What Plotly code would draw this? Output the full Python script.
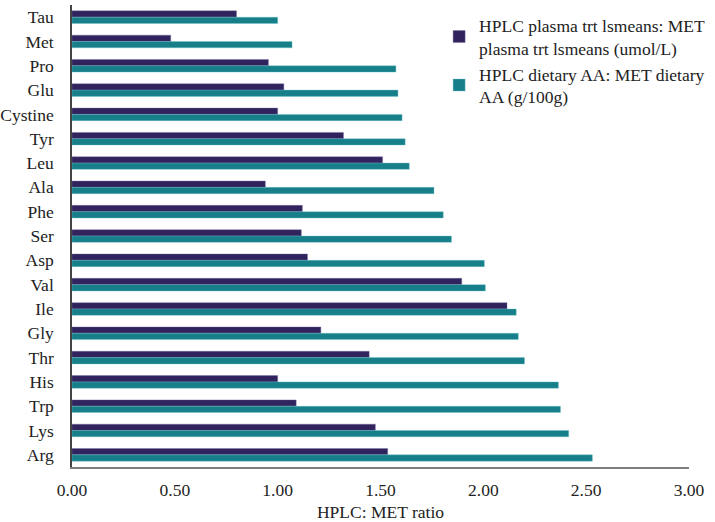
import plotly.graph_objects as go

categories = ["Tau", "Met", "Pro", "Glu", "Cystine", "Tyr", "Leu", "Ala", "Phe", "Ser",
              "Asp", "Val", "Ile", "Gly", "Thr", "His", "Trp", "Lys", "Arg"]
plasma = [0.80, 0.48, 0.955, 1.03, 1.00, 1.32, 1.51, 0.94, 1.12, 1.115,
          1.145, 1.895, 2.115, 1.21, 1.445, 1.00, 1.09, 1.475, 1.535]
dietary = [1.00, 1.07, 1.575, 1.585, 1.605, 1.62, 1.64, 1.76, 1.805, 1.845,
           2.005, 2.01, 2.16, 2.17, 2.20, 2.365, 2.375, 2.415, 2.53]
tick_vals = [0, 0.5, 1.0, 1.5, 2.0, 2.5, 3.0]

name_plasma = "HPLC plasma trt lsmeans: MET<br>plasma trt lsmeans (umol/L)"
name_dietary = "HPLC dietary AA: MET dietary<br>AA (g/100g)"

fig = go.Figure()
fig.add_trace(go.Bar(y=categories, x=plasma, orientation="h", name=name_plasma,
                     marker=dict(color="#30235E", line=dict(color="#7a6fa0", width=0.4))))
fig.add_trace(go.Bar(y=categories, x=dietary, orientation="h", name=name_dietary,
                     marker=dict(color="#167F89", line=dict(color="#6fc3c9", width=0.4))))

font = "Liberation Serif"
fs = 17.5
fig.update_layout(
    width=715, height=522,
    margin=dict(l=72, r=18, t=5, b=55),
    paper_bgcolor="white", plot_bgcolor="white",
    barmode="group", bargap=0.48, bargroupgap=0,
    font=dict(family=font, size=fs, color="#222"),
    showlegend=True,
    legend=dict(x=0.595, y=0.995, xanchor="left", yanchor="top",
                font=dict(family=font, size=fs, color="#222"),
                tracegroupgap=8, bgcolor="rgba(0,0,0,0)", itemwidth=30),
    xaxis=dict(range=[0, 3], tickvals=tick_vals, tickformat=".2f",
               showgrid=False, zeroline=False, showline=True,
               linecolor="#7f7f7f", linewidth=1.5, ticks="",
               automargin=False, ticklabelstandoff=6,
               title=dict(text="HPLC: MET ratio", standoff=14,
                          font=dict(family=font, size=fs)),
               tickfont=dict(family=font, size=fs)),
    yaxis=dict(autorange="reversed", showgrid=False, zeroline=False,
               showline=True, linecolor="#444", linewidth=1.5, ticks="",
               ticklabelstandoff=13, automargin=False,
               tickfont=dict(family=font, size=fs)),
)

fig.write_html("out.html", config={"displayModeBar": False},
               post_script="document.body.style.margin='0px';")
